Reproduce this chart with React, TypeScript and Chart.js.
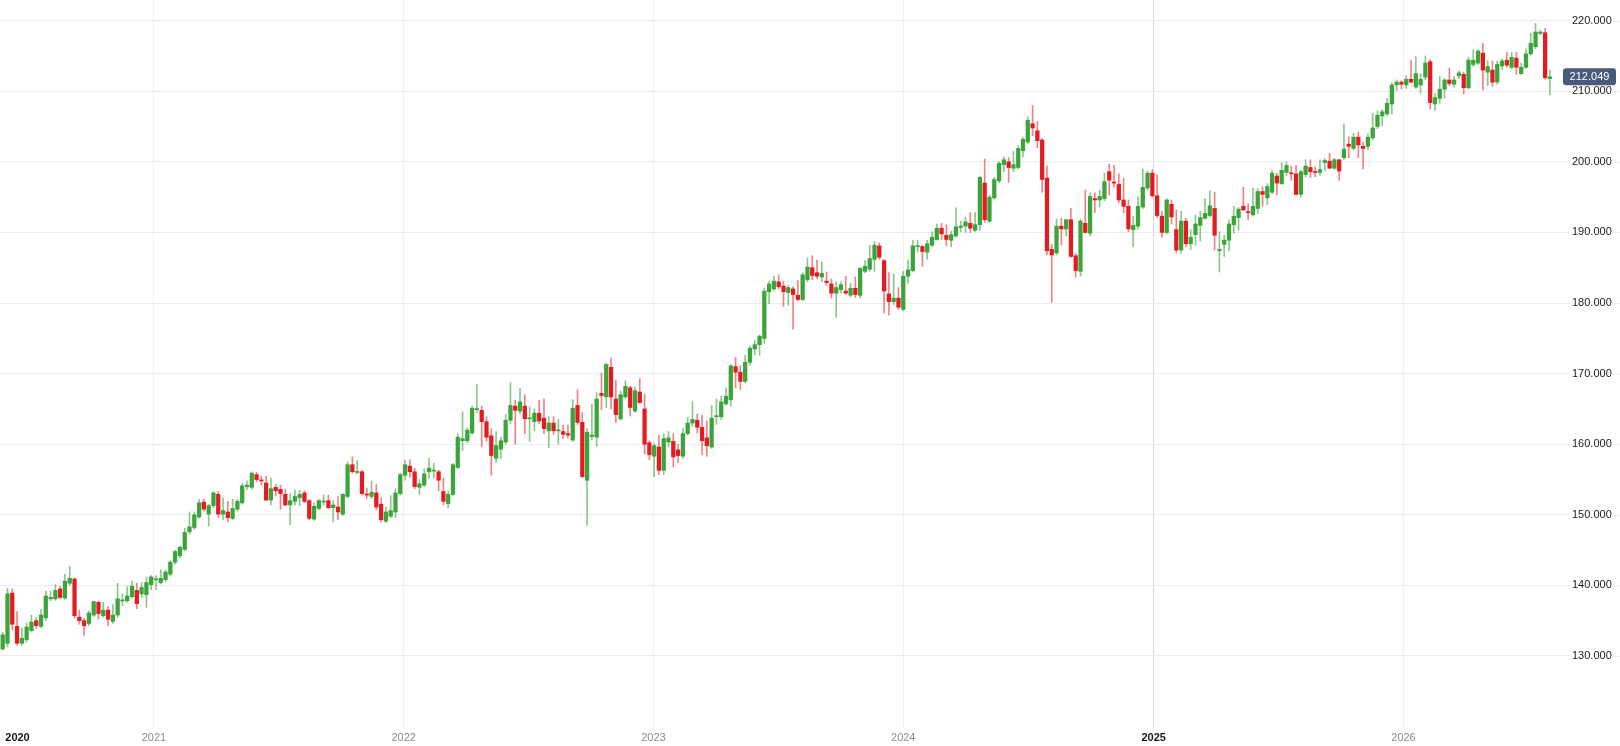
import { useEffect, useRef } from 'react';
import { Chart, registerables } from 'chart.js';

Chart.register(...registerables);

// weekly candles, first one is the week of 2020-05-25
const firstWeek = new Date(2020, 4, 25);

const opens = [
  131.0, 131.8, 138.9, 134.2, 131.8, 132.3, 133.6, 135.0, 134.2, 135.4, 138.1, 138.1, 139.5, 138.2, 140.3, 140.9, 135.5, 135.0, 134.6, 135.8,
  137.6, 135.7, 136.5, 134.9, 135.8, 137.8, 137.8, 138.4, 139.3, 138.8, 138.7, 140.1, 140.8, 140.4, 140.8, 141.6, 143.3, 144.2, 145.1, 147.6,
  148.2, 149.7, 151.8, 150.1, 151.3, 152.9, 150.1, 150.4, 149.5, 150.8, 151.7, 154.0, 153.9, 155.7, 154.9, 154.5, 152.1, 153.9, 153.6, 152.9,
  151.4, 151.9, 152.4, 153.1, 152.0, 149.4, 150.9, 151.8, 152.0, 151.0, 151.1, 150.1, 152.6, 157.1, 156.0, 156.1, 152.9, 152.6, 153.1, 151.5,
  149.1, 149.8, 150.4, 153.0, 155.6, 156.9, 156.1, 153.9, 154.2, 156.1, 156.2, 156.1, 153.3, 151.6, 152.9, 156.7, 160.5, 160.5, 161.6, 164.9,
  164.8, 163.2, 161.2, 158.0, 159.3, 160.3, 163.4, 165.4, 164.7, 165.4, 163.6, 163.2, 164.4, 163.7, 161.9, 163.0, 161.9, 161.8, 161.5, 160.6,
  165.5, 163.1, 154.9, 161.1, 161.0, 167.2, 166.7, 170.9, 166.4, 163.6, 166.7, 168.0, 164.7, 167.4, 165.0, 160.2, 158.3, 159.6, 156.3, 160.3,
  160.4, 159.2, 158.3, 161.5, 163.0, 163.4, 162.4, 160.9, 159.6, 163.9, 163.9, 165.7, 166.3, 171.0, 170.2, 168.9, 171.6, 173.5, 174.1, 175.0,
  181.6, 182.0, 183.0, 182.4, 181.5, 182.0, 181.1, 180.5, 183.3, 185.0, 184.3, 183.7, 183.1, 182.7, 181.4, 181.9, 181.7, 181.1, 182.1, 181.1,
  184.5, 184.8, 186.2, 188.1, 186.0, 181.3, 180.2, 180.7, 179.1, 183.8, 184.6, 188.0, 188.0, 187.2, 188.2, 189.0, 190.6, 189.6, 188.9, 189.5,
  190.7, 190.9, 191.3, 190.3, 191.1, 197.0, 191.6, 194.9, 197.3, 199.6, 200.0, 199.1, 199.2, 201.6, 202.8, 205.4, 204.4, 203.1, 197.7, 187.6,
  187.1, 190.9, 190.5, 191.8, 186.7, 184.5, 191.3, 189.9, 194.8, 194.6, 194.8, 198.6, 197.1, 196.8, 194.6, 193.7, 190.4, 190.9, 193.6, 196.3,
  198.4, 195.2, 192.3, 190.0, 194.0, 190.4, 187.5, 191.6, 188.4, 189.7, 191.0, 192.0, 192.4, 193.4, 187.4, 188.3, 188.9, 191.1, 192.1, 193.7,
  192.9, 192.5, 193.4, 195.8, 194.9, 195.7, 198.0, 196.9, 198.5, 198.4, 198.3, 195.4, 198.2, 199.2, 198.6, 198.5, 199.9, 200.1, 199.1, 200.3,
  200.6, 202.5, 201.9, 203.5, 202.2, 202.2, 203.4, 205.0, 206.5, 206.8, 208.2, 210.9, 211.3, 210.9, 211.7, 210.6, 210.9, 212.0, 214.2, 208.2,
  209.0, 210.3, 211.6, 211.0, 212.2, 212.4, 210.5, 213.8, 214.0, 215.4, 212.7, 213.0, 211.3, 213.6, 214.4, 213.4, 214.7, 212.5, 213.4, 215.3,
  216.3, 218.2, 218.3, 211.8,
];

const highs = [
  133.4, 139.6, 139.5, 136.3, 134.0, 134.7, 135.8, 135.4, 136.6, 139.2, 139.2, 140.1, 139.9, 141.6, 142.7, 141.1, 136.5, 135.3, 136.4, 137.8,
  137.8, 137.6, 137.0, 137.3, 140.3, 138.8, 139.8, 140.6, 140.3, 140.4, 141.2, 141.4, 141.4, 142.2, 142.2, 143.5, 145.0, 145.6, 148.1, 150.4,
  150.4, 152.2, 152.2, 151.5, 153.3, 153.3, 152.4, 151.9, 152.2, 152.2, 154.5, 154.8, 156.1, 156.0, 155.5, 155.5, 155.2, 154.3, 154.2, 153.6,
  153.0, 153.5, 153.5, 153.4, 152.2, 151.7, 152.2, 152.8, 152.8, 152.0, 152.6, 153.0, 157.5, 158.2, 157.7, 156.3, 153.8, 154.8, 154.3, 152.4,
  151.1, 152.7, 153.7, 155.9, 157.8, 157.8, 156.6, 155.0, 156.5, 158.0, 157.3, 156.3, 155.2, 153.4, 157.3, 161.5, 164.6, 162.3, 165.4, 168.5,
  165.4, 163.9, 162.2, 161.8, 161.0, 164.2, 168.7, 166.2, 167.9, 167.0, 165.3, 165.0, 166.2, 166.4, 163.9, 163.9, 163.5, 162.7, 162.7, 166.3,
  167.7, 164.5, 162.2, 165.7, 167.3, 170.1, 171.5, 172.2, 169.1, 167.5, 169.0, 168.2, 168.1, 169.3, 167.1, 160.5, 160.1, 161.3, 161.5, 161.8,
  161.5, 160.0, 162.2, 163.8, 166.1, 164.3, 164.1, 163.3, 165.5, 166.4, 166.8, 168.0, 171.3, 172.3, 171.1, 172.6, 173.9, 174.7, 175.5, 182.1,
  183.1, 183.8, 184.0, 183.1, 182.5, 182.3, 183.2, 184.3, 186.4, 186.7, 186.1, 185.8, 184.4, 183.4, 183.0, 183.0, 183.8, 182.8, 183.7, 185.1,
  186.0, 188.2, 188.7, 188.5, 186.2, 184.3, 184.1, 182.2, 184.5, 186.1, 188.9, 188.9, 188.2, 188.9, 190.1, 191.2, 191.3, 191.1, 190.2, 193.5,
  191.6, 192.2, 192.8, 192.8, 198.0, 200.4, 195.3, 197.8, 200.0, 200.7, 200.6, 201.5, 202.3, 203.5, 206.4, 208.0, 205.7, 203.3, 199.4, 188.3,
  191.9, 192.0, 191.9, 193.4, 187.0, 191.9, 196.0, 195.6, 195.6, 196.0, 198.4, 199.7, 199.5, 198.3, 197.7, 194.6, 192.3, 195.0, 199.0, 198.7,
  198.9, 198.2, 193.0, 194.8, 194.6, 193.2, 193.0, 192.0, 190.4, 192.5, 193.0, 194.8, 195.9, 195.7, 190.1, 189.6, 191.8, 193.7, 193.5, 196.4,
  194.1, 196.3, 196.2, 196.5, 196.9, 198.8, 198.4, 199.9, 200.0, 199.4, 199.5, 198.8, 200.3, 200.3, 199.3, 200.3, 200.5, 201.2, 200.5, 200.4,
  205.4, 203.5, 204.0, 204.2, 202.8, 204.0, 206.9, 207.2, 207.4, 209.0, 211.2, 211.6, 211.5, 212.2, 214.4, 214.9, 212.5, 215.0, 214.5, 209.7,
  212.1, 211.8, 213.3, 212.1, 212.9, 212.7, 214.8, 215.9, 215.9, 216.8, 214.3, 214.3, 214.3, 214.6, 215.5, 215.5, 215.5, 214.0, 216.0, 218.2,
  219.6, 218.7, 218.9, 213.0,
];

const lows = [
  130.8, 131.3, 133.7, 131.5, 131.5, 132.0, 133.4, 133.9, 134.0, 135.0, 137.8, 137.9, 138.1, 138.0, 140.0, 135.4, 134.5, 132.9, 134.3, 135.6,
  135.2, 135.5, 134.3, 134.6, 135.5, 137.1, 137.6, 138.2, 136.7, 138.3, 136.9, 139.4, 139.4, 140.2, 140.5, 141.3, 143.0, 143.9, 144.9, 147.3,
  147.9, 149.5, 150.5, 148.4, 151.0, 149.6, 149.3, 149.0, 149.3, 150.5, 151.5, 153.6, 153.6, 154.7, 154.2, 152.0, 151.4, 152.7, 150.8, 151.3,
  148.6, 151.4, 151.3, 151.7, 149.3, 149.2, 150.7, 151.4, 150.9, 149.0, 149.3, 149.9, 152.4, 155.9, 155.8, 152.8, 152.3, 152.3, 150.7, 149.0,
  148.9, 149.6, 149.6, 152.8, 154.9, 155.3, 153.7, 152.9, 154.0, 155.2, 155.2, 153.4, 151.4, 151.0, 152.7, 156.5, 159.1, 160.2, 161.4, 164.5,
  159.6, 160.4, 155.6, 157.4, 158.0, 160.0, 162.9, 160.0, 164.3, 161.5, 160.4, 161.9, 162.9, 161.5, 159.5, 161.4, 160.0, 160.8, 160.9, 160.4,
  162.8, 155.3, 148.5, 160.6, 159.7, 164.9, 165.2, 165.0, 163.1, 163.4, 166.5, 164.0, 164.5, 165.8, 158.6, 157.8, 155.4, 155.7, 155.7, 159.6,
  156.8, 157.4, 158.0, 161.3, 162.5, 161.6, 158.5, 158.3, 159.4, 162.8, 163.5, 165.5, 165.4, 168.0, 167.8, 168.7, 171.2, 172.7, 172.6, 174.3,
  179.9, 181.7, 182.0, 179.5, 179.7, 176.3, 180.3, 180.3, 183.0, 183.3, 183.4, 183.0, 182.5, 180.7, 178.0, 181.4, 181.2, 180.9, 180.8, 180.7,
  184.3, 184.5, 184.5, 186.2, 178.6, 178.3, 179.8, 179.1, 178.9, 182.8, 184.4, 187.2, 185.2, 186.2, 188.0, 188.9, 189.0, 188.1, 188.0, 189.3,
  190.1, 190.0, 190.0, 190.1, 190.3, 191.4, 191.4, 194.7, 197.0, 198.6, 197.1, 198.6, 199.0, 200.7, 202.6, 203.7, 202.0, 195.7, 186.8, 180.1,
  186.8, 188.2, 189.5, 186.5, 183.7, 183.8, 189.9, 189.5, 192.8, 193.6, 194.5, 195.3, 196.4, 194.2, 192.8, 190.1, 188.0, 190.5, 193.4, 196.0,
  195.0, 192.1, 189.3, 189.8, 191.2, 187.1, 187.0, 188.0, 187.6, 188.2, 188.8, 191.9, 192.2, 187.5, 184.4, 186.6, 187.4, 189.9, 190.3, 193.1,
  191.8, 192.3, 192.7, 193.7, 193.9, 195.5, 195.3, 196.8, 198.0, 197.4, 195.3, 195.0, 197.9, 197.8, 197.9, 198.1, 198.7, 199.1, 198.9, 197.4,
  200.3, 200.6, 201.7, 200.6, 199.0, 201.7, 203.1, 204.7, 205.1, 206.5, 206.8, 210.1, 210.3, 210.4, 211.2, 210.4, 209.7, 211.6, 207.5, 207.3,
  208.3, 209.0, 210.8, 210.6, 211.8, 209.6, 210.3, 213.5, 213.8, 210.2, 210.8, 210.7, 211.0, 213.1, 213.4, 213.2, 212.4, 212.4, 213.2, 215.1,
  216.0, 218.0, 211.7, 209.5,
];

const closes = [
  133.0, 138.8, 134.5, 131.8, 132.5, 134.1, 134.8, 134.3, 135.8, 138.5, 138.3, 139.3, 138.3, 140.6, 141.0, 135.7, 135.0, 134.3, 136.1, 137.7,
  136.0, 136.5, 135.2, 135.8, 138.1, 137.9, 138.5, 139.9, 137.4, 139.7, 140.4, 141.2, 140.9, 141.0, 141.9, 143.3, 144.8, 145.4, 147.5, 148.3,
  150.0, 151.7, 150.8, 151.3, 153.1, 150.1, 150.6, 149.6, 150.9, 151.9, 154.1, 154.2, 155.9, 155.0, 154.8, 152.1, 153.7, 153.4, 153.0, 151.4,
  152.0, 152.6, 152.9, 151.9, 149.5, 151.2, 152.0, 151.9, 151.0, 151.4, 150.4, 152.9, 157.1, 156.1, 156.1, 153.0, 152.8, 153.2, 151.1, 149.3,
  150.4, 150.6, 153.1, 155.7, 157.1, 156.1, 154.0, 154.4, 155.8, 156.6, 156.3, 154.9, 151.9, 152.9, 157.1, 161.0, 160.8, 162.0, 165.1, 165.0,
  163.2, 161.0, 158.4, 159.8, 160.5, 163.4, 165.5, 164.8, 166.0, 163.6, 163.7, 164.4, 163.3, 162.2, 163.0, 161.9, 162.0, 161.4, 161.3, 165.1,
  163.1, 155.4, 161.7, 161.3, 166.4, 166.9, 171.3, 166.7, 164.2, 167.0, 168.2, 165.2, 167.6, 165.9, 160.0, 158.5, 159.8, 156.3, 160.8, 160.9,
  158.2, 158.4, 161.5, 163.0, 163.5, 162.4, 160.5, 159.8, 163.7, 164.0, 166.0, 166.8, 171.1, 170.2, 168.9, 171.6, 173.6, 174.1, 175.3, 181.7,
  182.7, 183.1, 182.3, 181.6, 182.2, 181.2, 180.5, 184.0, 185.1, 183.9, 183.8, 184.2, 182.9, 181.4, 182.2, 182.6, 181.4, 182.1, 181.2, 184.9,
  185.2, 186.3, 188.2, 186.5, 181.7, 180.2, 180.7, 179.4, 183.8, 184.7, 188.1, 188.1, 187.3, 188.4, 189.3, 190.6, 189.8, 189.0, 189.7, 190.8,
  190.9, 191.5, 190.6, 191.1, 197.8, 191.8, 195.0, 197.5, 199.8, 200.3, 199.2, 199.6, 201.9, 203.2, 205.9, 204.8, 203.0, 197.5, 187.4, 186.8,
  190.9, 190.5, 191.8, 186.6, 184.6, 191.6, 190.0, 195.1, 194.6, 195.1, 197.2, 197.4, 197.0, 194.6, 193.7, 190.5, 191.0, 193.7, 196.4, 198.4,
  195.2, 192.4, 190.0, 194.6, 192.2, 187.5, 191.6, 188.4, 189.3, 191.2, 192.1, 192.7, 193.8, 189.6, 187.6, 188.9, 191.2, 192.3, 193.3, 193.2,
  192.8, 193.7, 195.8, 195.4, 196.5, 198.4, 197.0, 198.8, 199.5, 198.3, 195.4, 198.6, 199.4, 198.6, 198.5, 198.9, 200.2, 199.1, 200.3, 198.7,
  201.8, 202.2, 203.5, 202.4, 201.9, 203.5, 204.8, 206.6, 207.1, 208.3, 210.9, 211.3, 211.0, 211.7, 211.3, 212.5, 211.7, 214.0, 208.4, 209.1,
  210.3, 211.6, 211.1, 211.6, 212.6, 210.5, 214.4, 214.4, 215.7, 213.0, 213.5, 211.3, 213.8, 214.3, 213.7, 214.8, 213.4, 213.4, 215.3, 216.8,
  218.4, 218.4, 211.9, 212.049,
];

const yearLabels = ['2020', '2021', '2022', '2023', '2024', '2025', '2026'];
const priceTicks = [130, 140, 150, 160, 170, 180, 190, 200, 210, 220];

const UP = '#3ba43b';
const DOWN = '#e31b23';
const UP_WICK = 'rgba(59,164,59,0.6)';
const DOWN_WICK = 'rgba(227,27,35,0.55)';
const GRID = '#ececec';
const FONT = 'Arial, "Liberation Sans", sans-serif';

const WEEK_MS = 7 * 24 * 3600 * 1000;
const weeksFromStart = (d: Date) => (d.getTime() - firstWeek.getTime()) / WEEK_MS;

const X_MIN = -0.56;
const X_MAX = 325.1;
const Y_MIN = 119.8;
const Y_MAX = 222.93;

const isBold = (i: number) => i === 0 || yearLabels[i] === '2025';

// grid stub to the right of each price label + last price tag
const priceAxisExtras = {
  id: 'priceAxisExtras',
  afterDraw(chart: any) {
    const { ctx, scales } = chart;
    ctx.save();
    ctx.strokeStyle = GRID;
    ctx.lineWidth = 1;
    priceTicks.forEach(v => {
      const py = Math.round(scales.y.getPixelForValue(v)) + 0.5;
      ctx.beginPath();
      ctx.moveTo(1611, py);
      ctx.lineTo(1620, py);
      ctx.stroke();
    });

    const last = closes[closes.length - 1];
    const y = scales.y.getPixelForValue(last);
    const x0 = 1563;
    const w = 53;
    const h = 17;
    ctx.fillStyle = '#4a5a7a';
    ctx.beginPath();
    ctx.roundRect(x0, y - h / 2, w, h, 3);
    ctx.fill();
    ctx.fillStyle = '#ffffff';
    ctx.font = `11px ${FONT}`;
    ctx.textAlign = 'center';
    ctx.textBaseline = 'middle';
    ctx.fillText(last.toFixed(3), x0 + w / 2, y + 0.5);
    ctx.restore();
  },
};

export default function App() {
  const chartRef = useRef<HTMLCanvasElement>(null);
  const chartInstance = useRef<Chart | null>(null);

  useEffect(() => {
    document.body.style.margin = '0';
    if (!chartRef.current) return;
    chartInstance.current?.destroy();
    const ctx = chartRef.current.getContext('2d');
    if (!ctx) return;

    const up = opens.map((o, i) => closes[i] >= o);
    const yearTicks = yearLabels.map((y, i) =>
      i === 0 ? X_MIN + 17.5 / 4.79 : weeksFromStart(new Date(Number(y), 0, 1)),
    );

    chartInstance.current = new Chart(ctx, {
      type: 'bar',
      data: {
        datasets: [
          {
            label: 'body',
            data: opens.map((o, i) => ({ x: i, y: [o, closes[i]] })) as any,
            backgroundColor: up.map(u => (u ? UP : DOWN)),
            barThickness: 3.6,
            minBarLength: 1,
            grouped: false,
            order: 0,
          },
          {
            label: 'wick',
            data: lows.map((l, i) => ({ x: i, y: [l, highs[i]] })) as any,
            backgroundColor: up.map(u => (u ? UP_WICK : DOWN_WICK)),
            barThickness: 1,
            grouped: false,
            order: 1,
          },
        ],
      },
      options: {
        responsive: true,
        maintainAspectRatio: false,
        animation: false,
        layout: { padding: 0 },
        plugins: {
          legend: { display: false },
          tooltip: { enabled: false },
        },
        scales: {
          x: {
            type: 'linear',
            offset: false,
            min: X_MIN,
            max: X_MAX,
            afterBuildTicks: (axis: any) => {
              axis.ticks = yearTicks.map(v => ({ value: v }));
            },
            afterFit: (axis: any) => {
              axis.height = 18;
              axis.paddingLeft = 0;
              axis.paddingRight = 0;
            },
            border: { display: false },
            grid: {
              offset: false,
              drawTicks: false,
              color: (c: any) =>
                c.index === 0 ? 'rgba(0,0,0,0)' : yearLabels[c.index] === '2025' ? '#d9d9d9' : '#f1f1f1',
            },
            ticks: {
              autoSkip: false,
              maxRotation: 0,
              padding: 3,
              callback: (_v: any, i: number) => yearLabels[i],
              color: (c: any) => (isBold(c.index) ? '#131722' : '#8c8c8c'),
              font: (c: any) => ({
                family: FONT,
                size: 11,
                weight: isBold(c.index) ? 'bold' : 'normal',
              }),
            },
          },
          y: {
            position: 'right',
            min: Y_MIN,
            max: Y_MAX,
            afterBuildTicks: (axis: any) => {
              axis.ticks = priceTicks.map(v => ({ value: v }));
            },
            afterFit: (axis: any) => {
              axis.width = 60;
              axis.paddingTop = 0;
              axis.paddingBottom = 0;
            },
            border: { display: false },
            grid: {
              color: GRID,
              drawTicks: true,
              tickLength: 10,
            },
            ticks: {
              padding: 2,
              color: '#1a1a1a',
              font: { family: FONT, size: 11 },
              callback: (v: any) => Number(v).toFixed(3),
            },
          },
        },
      },
      plugins: [priceAxisExtras],
    });

    return () => {
      chartInstance.current?.destroy();
    };
  }, []);

  return (
    <div style={{ width: 1620, height: 746, background: '#ffffff', position: 'relative' }}>
      <canvas ref={chartRef} />
    </div>
  );
}
